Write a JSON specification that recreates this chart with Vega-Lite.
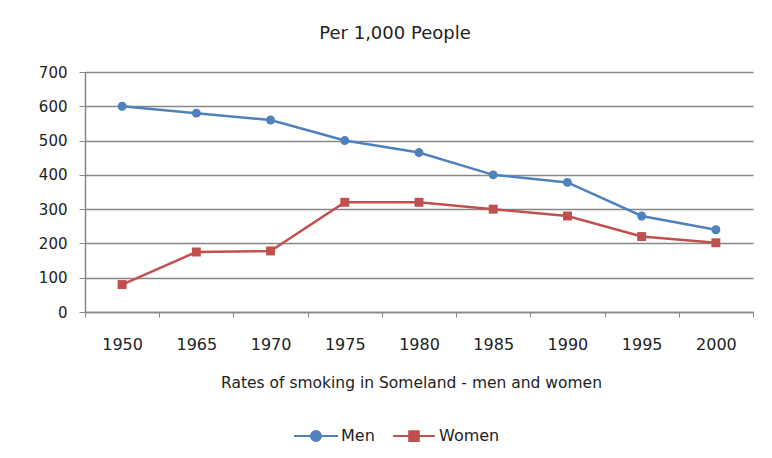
{
  "$schema": "https://vega.github.io/schema/vega-lite/v6.json",
  "width": 668,
  "height": 240,
  "autosize": {"type": "none"},
  "padding": {"left": 85, "top": 72, "right": 19, "bottom": 146},
  "background": "white",
  "config": {"font": "DejaVu Sans", "view": {"stroke": null}},
  "title": {"text": "Per 1,000 People", "fontSize": 18, "fontWeight": "normal", "color": "#222", "offset": 22, "dx": -24},
  "data": {"values": [
    {"year": "1950", "series": "Men", "value": 600},
    {"year": "1965", "series": "Men", "value": 580},
    {"year": "1970", "series": "Men", "value": 560},
    {"year": "1975", "series": "Men", "value": 500},
    {"year": "1980", "series": "Men", "value": 465},
    {"year": "1985", "series": "Men", "value": 400},
    {"year": "1990", "series": "Men", "value": 378},
    {"year": "1995", "series": "Men", "value": 280},
    {"year": "2000", "series": "Men", "value": 240},
    {"year": "1950", "series": "Women", "value": 80},
    {"year": "1965", "series": "Women", "value": 175},
    {"year": "1970", "series": "Women", "value": 178},
    {"year": "1975", "series": "Women", "value": 320},
    {"year": "1980", "series": "Women", "value": 320},
    {"year": "1985", "series": "Women", "value": 300},
    {"year": "1990", "series": "Women", "value": 280},
    {"year": "1995", "series": "Women", "value": 220},
    {"year": "2000", "series": "Women", "value": 202}
  ]},
  "encoding": {
    "x": {
      "field": "year", "type": "ordinal", "sort": null,
      "scale": {"type": "band", "paddingInner": 0, "paddingOuter": 0},
      "axis": {
        "title": "Rates of smoking in Someland - men and women",
        "labelAngle": 0, "grid": false, "tickBand": "extent",
        "domainColor": "#888", "domainWidth": 1.5, "tickColor": "#888", "tickSize": 5,
        "labelPadding": 19, "labelFontSize": 16, "labelColor": "#222",
        "titleFontSize": 15.5, "titleFontWeight": "normal", "titleColor": "#222", "titlePadding": 23,
        "titleX": 326
      }
    },
    "y": {
      "field": "value", "type": "quantitative",
      "scale": {"domain": [0, 700], "nice": false},
      "axis": {
        "title": null, "values": [0, 100, 200, 300, 400, 500, 600, 700],
        "grid": true, "gridColor": "#888", "gridWidth": 1.5,
        "domainColor": "#888", "domainWidth": 1.5, "tickColor": "#888", "tickSize": 6,
        "labelPadding": 12, "labelFontSize": 15, "labelColor": "#222"
      }
    },
    "color": {
      "field": "series", "type": "nominal",
      "scale": {"domain": ["Men", "Women"], "range": ["#4F81BD", "#C0504D"]},
      "legend": {
        "title": null, "orient": "none", "direction": "horizontal",
        "legendX": 223, "legendY": 356, "padding": 0,
        "symbolSize": 64, "labelOffset": 17, "columnPadding": 14,
        "labelFontSize": 16, "labelColor": "#222",
        "encode": {
          "symbols": {
            "update": {
              "shape": {"signal": "datum.value === 'Men' ? 'M-5.5,0H5.5M-1.25,0A1.25,1.25 0 1,1 1.25,0A1.25,1.25 0 1,1 -1.25,0Z' : 'M-5.2,0H5.2M-1.2,-1.2H1.2V1.2H-1.2Z'"},
              "fill": {"scale": "color", "field": "value"},
              "stroke": {"scale": "color", "field": "value"},
              "strokeWidth": {"value": 2},
              "opacity": {"value": 1}
            }
          }
        }
      }
    }
  },
  "layer": [
    {"mark": {"type": "line", "strokeWidth": 2.5}},
    {
      "transform": [{"filter": "datum.series === 'Men'"}],
      "mark": {"type": "point", "filled": true, "opacity": 1, "size": 80, "shape": "circle"}
    },
    {
      "transform": [{"filter": "datum.series === 'Women'"}],
      "mark": {"type": "point", "filled": true, "opacity": 1, "size": 80, "shape": "square"}
    }
  ]
}
